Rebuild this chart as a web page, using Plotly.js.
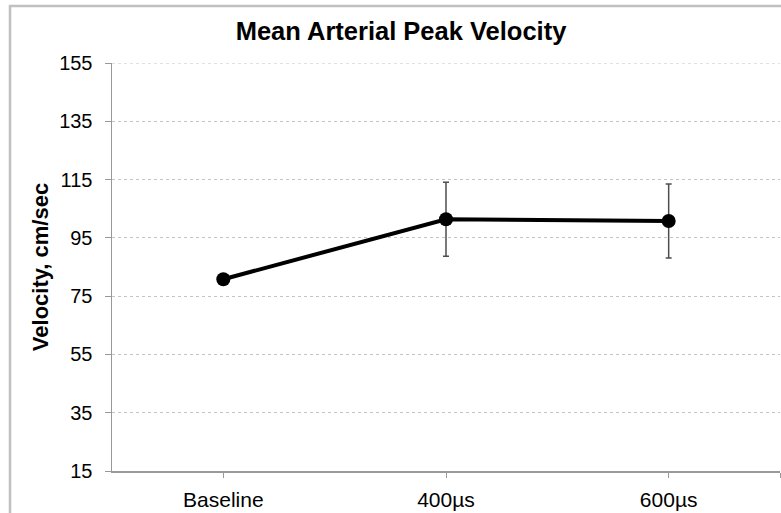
<!DOCTYPE html>
<html>
<head>
<meta charset="utf-8">
<script src="https://cdn.plot.ly/plotly-3.0.1.min.js"></script>
<style>html,body{margin:0;padding:0;background:#fff;}#chart{width:781px;height:513px;}</style>
</head>
<body>
<div id="chart"></div>
<script>
const categories = ["Baseline", "400µs", "600µs"];
const catPositions = [0, 1, 2];
const velocity = [80.8, 101.4, 100.8];
const errorSize = [0, 12.7, 12.7];
const yTicks = [15, 35, 55, 75, 95, 115, 135, 155];

const trace = {
  x: catPositions,
  y: velocity,
  type: "scatter",
  mode: "lines+markers",
  line: {color: "#000000", width: 4},
  marker: {color: "#000000", size: 14},
  error_y: {type: "data", array: errorSize, visible: true, color: "#4d4d4d", thickness: 1.5, width: 3},
  hoverinfo: "none",
  showlegend: false
};

const L = 112, R = 780, T = 63, B = 471;
const pw = R - L, ph = B - T;
const bx = (10 - L) / pw;
const by = (B - 6) / ph;

const layout = {
  width: 781, height: 513,
  margin: {l: L, r: 781 - R, t: T, b: 513 - B, pad: 0},
  paper_bgcolor: "#ffffff",
  plot_bgcolor: "#ffffff",
  font: {family: "Liberation Sans, Arial, sans-serif", color: "#000000"},
  title: {
    text: "<b>Mean Arterial Peak Velocity</b>",
    font: {size: 25.5, family: "Liberation Sans, Arial, sans-serif", color: "#000"},
    x: 401 / 781, xanchor: "center", xref: "container",
    y: 1 - 31 / 513, yanchor: "middle", yref: "container"
  },
  xaxis: {
    range: [-0.5, 2.5],
    tickmode: "array",
    tickvals: catPositions.concat([2.5]),
    ticktext: categories.concat([""]),
    ticks: "outside", ticklen: 5, tickcolor: "#999999", tickwidth: 1,
    showline: true, linecolor: "#999999", linewidth: 1.5,
    showgrid: false, zeroline: false,
    tickfont: {size: 21, color: "#000"},
    ticklabelstandoff: 4,
    fixedrange: true
  },
  yaxis: {
    range: [15, 155],
    tickmode: "array",
    tickvals: yTicks,
    ticktext: yTicks.map(String),
    ticks: "outside", ticklen: 6, tickcolor: "#999999", tickwidth: 1,
    showline: true, linecolor: "#999999", linewidth: 1.5,
    showgrid: true, gridcolor: "#c4c4c4", gridwidth: 1, griddash: "dot",
    zeroline: false,
    tickfont: {size: 20, color: "#000"},
    ticklabelstandoff: 8,
    title: {text: "<b>Velocity, cm/sec</b>", font: {size: 22, color: "#000"}, standoff: 4},
    fixedrange: true
  },
  shapes: [{
    type: "path", xref: "paper", yref: "paper",
    path: `M ${bx} -0.2 L ${bx} ${by} L 1.2 ${by}`,
    line: {color: "#c0c0c0", width: 2.5}
  }, {
    type: "line", xref: "paper", yref: "y",
    x0: 0, x1: 1, y0: yTicks[yTicks.length - 1], y1: yTicks[yTicks.length - 1],
    line: {color: "#c4c4c4", width: 1, dash: "dot"}, layer: "below"
  }]
};

Plotly.newPlot("chart", [trace], layout, {displayModeBar: false, staticPlot: true});
</script>
</body>
</html>
